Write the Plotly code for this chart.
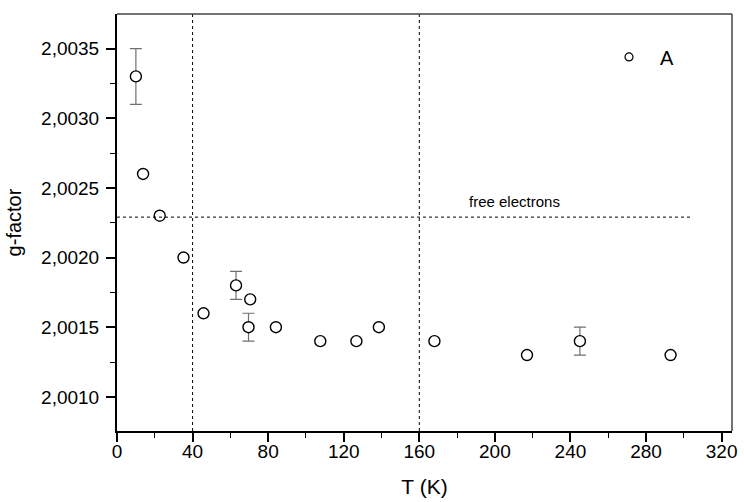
import plotly.graph_objects as go

# Data
T = [10, 13.8, 22.6, 35.2, 45.8, 63, 70.5, 69.6, 84.1, 107.6, 126.7, 138.6, 168, 217, 245, 293]
g = [2.0033, 2.0026, 2.0023, 2.0020, 2.0016, 2.0018, 2.0017, 2.0015, 2.0015,
     2.0014, 2.0014, 2.0015, 2.0014, 2.0013, 2.0014, 2.0013]
T_err = [10, 63, 69.6, 245]
g_err = [2.0033, 2.0018, 2.0015, 2.0014]
err = [0.0002, 0.0001, 0.0001, 0.0001]

free_electron_g = 2.00229
free_line_end = 304
vlines = [40, 160]
series_name = "\u00a0\u00a0A"

FONT = "Liberation Sans, Arial, sans-serif"

fig = go.Figure()

fig.add_trace(go.Scatter(
    x=T_err, y=g_err, mode="markers",
    marker=dict(size=1, color="rgba(0,0,0,0)"),
    error_y=dict(type="data", array=err, visible=True, color="#707070", thickness=1.2, width=6),
    showlegend=False, hoverinfo="skip"))

fig.add_trace(go.Scatter(
    x=T, y=g, mode="markers", name=series_name, showlegend=False,
    marker=dict(symbol="circle", size=11, color="white", line=dict(color="black", width=1.4))))

# legend-only entry (smaller symbol as in the reference legend)
fig.add_trace(go.Scatter(
    x=[None], y=[None], mode="markers", name=series_name, showlegend=True,
    marker=dict(symbol="circle", size=8, color="white", line=dict(color="black", width=1.2))))

for xv in vlines:
    fig.add_shape(type="line", xref="x", yref="paper", x0=xv, x1=xv, y0=0, y1=1,
                  line=dict(color="black", width=1, dash="3px,3px"))
fig.add_shape(type="line", xref="x", yref="y", x0=0, x1=free_line_end,
              y0=free_electron_g, y1=free_electron_g,
              line=dict(color="black", width=1, dash="3px,3px"))
# top and right frame
fig.add_shape(type="line", xref="paper", yref="paper", x0=0, x1=1, y0=1, y1=1,
              line=dict(color="#444", width=1.5))
fig.add_shape(type="line", xref="paper", yref="paper", x0=1, x1=1, y0=0, y1=1,
              line=dict(color="#444", width=1.5))

fig.add_annotation(x=210.5, y=2.00240, xref="x", yref="y", text="free electrons",
                   showarrow=False, font=dict(family=FONT, size=15, color="black"))

fig.update_layout(
    width=744, height=502,
    margin=dict(l=117, r=7, t=14, b=69),
    paper_bgcolor="white", plot_bgcolor="white",
    separators=", ",
    font=dict(family=FONT, color="black"),
    showlegend=True,
    legend=dict(x=0.80, y=0.897, xanchor="left", yanchor="middle",
                font=dict(family=FONT, size=20, color="black"),
                bgcolor="rgba(0,0,0,0)"),
    xaxis=dict(range=[0, 325.5], tickmode="linear", tick0=0, dtick=40,
               ticks="outside", ticklen=9, tickwidth=1.5, tickcolor="black",
               ticklabelstandoff=-7,
               minor=dict(ticks="outside", ticklen=5, dtick=20, tickcolor="black", tickwidth=1.2),
               showline=True, linecolor="black", linewidth=2, showgrid=False, zeroline=False,
               tickfont=dict(family=FONT, size=19),
               title=dict(text="T (K)", font=dict(family=FONT, size=21), standoff=19)),
    yaxis=dict(range=[2.000755, 2.003748], tickmode="linear", tick0=2.0010, dtick=0.0005,
               tickformat=".4f",
               ticks="outside", ticklen=9, tickwidth=1.5, tickcolor="black",
               ticklabelstandoff=3,
               minor=dict(ticks="outside", ticklen=5, dtick=0.00025, tickcolor="black", tickwidth=1.2),
               showline=True, linecolor="black", linewidth=2, showgrid=False, zeroline=False,
               tickfont=dict(family=FONT, size=19),
               title=dict(text="g-factor", font=dict(family=FONT, size=20), standoff=14)),
)

fig.write_html("out.html", config={"displayModeBar": False},
               post_script="document.body.style.margin='0';document.body.style.overflow='hidden';")
